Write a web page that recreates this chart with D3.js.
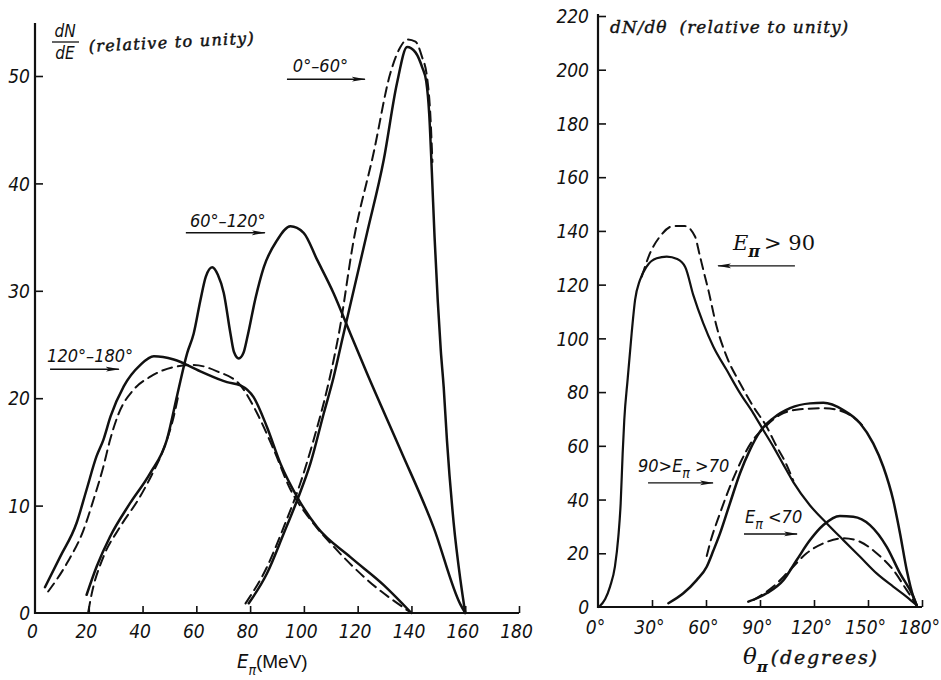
<!DOCTYPE html>
<html><head><meta charset="utf-8">
<script src="https://cdn.jsdelivr.net/npm/d3@7/dist/d3.min.js"></script>
<style>
body{margin:0;background:#fff;}
svg{display:block;}
</style></head><body>
<svg id="c" width="941" height="680"></svg>
<script>
// ---------- LEFT PANEL DATA: dN/dE vs E_pi (MeV) ----------
const leftXTicks = [0,20,40,60,80,100,120,140,160,180];
const leftYTicks = [0,10,20,30,40,50];
const e120_180_solid = [[3.7,2.4],[9.3,5.2],[15.5,8.4],[19.2,11.5],[22.9,14.6],[25.4,16.1],[28.1,18.3],[33,21.1],[39.2,23.1],[44.2,23.9],[51.6,23.6],[61.5,22.5],[71.4,21.5],[76.4,21.2],[81.3,20.1],[86.3,17.3],[91.3,13.9],[97.5,10.8],[104.9,8.0],[117.3,5.2],[129.7,2.6],[140,0]];
const e120_180_dash  = [[4.9,2.0],[11.8,4.6],[18,7.7],[21.7,10.5],[25.4,13.6],[27.9,16.1],[31,18.5],[36.7,20.8],[42.9,22.0],[51.6,22.9],[59,23.1],[67.7,22.5],[76.4,21.2],[82.6,18.6],[88.8,15.2],[95,11.5],[102.4,8.7],[111,6.2],[123.5,3.1],[140,0]];
const e60_120_solid  = [[19.2,1.7],[22.9,4.3],[27.9,7.1],[35.3,10.2],[42.8,13.0],[49,16.1],[52.9,20.3],[56.6,24.2],[59,26.0],[61.5,29.1],[63.5,31.3],[65.9,32.2],[68,31.5],[70.2,29.8],[72.7,26.0],[74,24.3],[75.8,23.7],[77.5,24.2],[78.9,25.6],[82,29.3],[85.1,32.2],[90,34.7],[95,36.0],[99.9,35.4],[104.9,32.9],[111,29.8],[117.3,26.0],[123.5,22.3],[135.9,15.2],[148.2,8.0],[158.2,0.8],[160,0]];
const e60_120_dash   = [[19.8,0.1],[21.1,1.8],[25.4,5.2],[31.6,8.0],[39,10.8],[43.5,12.9],[47.7,15.2],[51.6,18.3],[53.5,20.5]];
const e0_60_solid    = [[79.5,0.9],[86.3,3.7],[92.5,7.4],[97.5,10.5],[102.4,13.9],[107.4,18.6],[111.1,22.0],[114.2,25.4],[123.5,35.4],[129.7,42.2],[134.6,49.3],[138.4,52.7],[141.5,52.2],[144,50.8],[145.5,49.5],[146.6,46.5],[147.6,41],[148.6,35],[149.8,29],[150.9,24.5],[152,21],[153.2,16.1],[155.7,8.4],[158.2,3.1],[160,0]];
const e0_60_dash     = [[78.3,0.9],[86.3,4.3],[92.5,8.0],[98.7,12.1],[103.6,16.1],[108.6,20.8],[111.1,23.6],[113,26.0],[118.5,34.7],[125.9,42.8],[132.2,50.3],[135.9,52.7],[138.4,53.4],[141.5,53.2],[143.9,51.8],[145.8,49.9],[147,46.5],[147.8,42]];

// ---------- RIGHT PANEL DATA: dN/dtheta vs theta (degrees) ----------
const rightXTicks = [0,30,60,90,120,150,180];
const rightYTicks = [0,20,40,60,80,100,120,140,160,180,200,220];
const gt90_solid = [[0.5,0],[4,3],[6.7,7.6],[9.4,15],[11.3,26.2],[12.6,38.6],[13.7,57.2],[14.6,69.6],[16.5,85],[18.7,101.9],[20.6,114.3],[23.3,121.7],[27,126.7],[32.6,129.8],[38.2,130.4],[44,129.5],[48.5,126.5],[53,116],[58.5,105.6],[64.1,96.9],[71.5,88.2],[78.9,79.6],[86.3,72.1],[91.8,65.9],[97.4,59.7],[103,53],[108.5,46.5],[117.8,37.8],[127,31.2],[136.3,24.9],[145.6,18.7],[154.8,12.5],[164,7.6],[171.5,3.8],[177,0.7]];
const gt90_dash  = [[24.3,123],[28.9,131.7],[34.4,137.9],[41.9,141.8],[48.3,141.8],[53.9,137.9],[56.5,131],[58.5,125.5],[61.3,118],[65.9,104.4],[71.5,93.2],[78.9,83.3],[86.3,74.6],[93.7,67.1],[99.3,59.7],[104,54],[108.5,47]];
const mid_solid  = [[39.1,1.4],[47.4,5.1],[54.8,10],[60.4,15],[64.1,21],[67.8,27.4],[73.3,38.6],[78.9,49.8],[84.4,58.5],[90,65.3],[97.4,70.3],[106.7,74],[117.8,75.8],[125.2,76],[136.3,73.3],[145.6,68.4],[152.9,60.9],[158.5,52.2],[164,39.8],[167.8,27.4],[171.5,13.8],[175.2,3.8],[177,0.7]];
const mid_dash   = [[60.4,19],[62.2,23.7],[67.8,34.9],[73.3,44.8],[79.8,54.7],[85.4,61.5],[92,66.5],[101.1,71.5],[112.2,73.6],[125.2,74],[136.3,72.7],[143.7,69.6],[147,67.5]];
const lt70_solid = [[83.5,2],[93.7,5.1],[103,10],[110.4,17.5],[117.8,24.9],[125.2,30.5],[134.4,33.9],[141.8,33.6],[151.1,30.5],[160.4,22.4],[167.8,12.5],[175.2,3.8],[177,0.7]];
const lt70_dash  = [[86.3,2.6],[97.4,7.6],[106.7,13.8],[115.9,20],[125.2,23.7],[136.3,25.6],[145.6,24.3],[154.8,20],[164,13.8],[171.5,6.3],[177,0.7]];

const svg = d3.select("#c");
const ink = "#111";
const NARROW = "'Liberation Sans Narrow','DejaVu Sans Condensed','Liberation Sans',sans-serif";
const SERIF = "'DejaVu Serif','Liberation Serif',serif";

// scales
const xL = d3.scaleLinear().domain([0,180]).range([35,519]);
const yL = d3.scaleLinear().domain([0,50]).range([613,76]);
const xR = d3.scaleLinear().domain([0,180]).range([598,922]);
const yR = d3.scaleLinear().domain([0,220]).range([607,16]);

function styleTickText(sel){
  sel.attr("fill",ink).style("font-family",NARROW).style("font-style","italic")
     .style("font-size","19px");
}

function drawAxes(x, y, xt, yt, fmtX, yTop, yLabPad, xLabPad){
  const g = svg.append("g");
  g.append("line").attr("x1",x(0)).attr("x2",x(0)).attr("y1",y(0)+1).attr("y2",yTop)
    .attr("stroke",ink).attr("stroke-width",2.2);
  g.append("line").attr("x1",x(0)-1).attr("x2",x(xt[xt.length-1])).attr("y1",y(0)).attr("y2",y(0))
    .attr("stroke",ink).attr("stroke-width",2.2);
  const ax = d3.axisBottom(x).tickValues(xt).tickSize(-7).tickPadding(xLabPad).tickFormat(fmtX);
  const gx = g.append("g").attr("transform",`translate(0,${y(0)})`).call(ax);
  gx.select(".domain").remove();
  gx.selectAll(".tick line").attr("stroke",ink).attr("stroke-width",1.6)
    .filter(d=>d===0).remove();
  gx.selectAll(".tick text").call(styleTickText).attr("dx",-3).attr("dy","0.72em");
  const ay = d3.axisLeft(y).tickValues(yt).tickSize(-8).tickPadding(yLabPad);
  const gy = g.append("g").attr("transform",`translate(${x(0)},0)`).call(ay);
  gy.select(".domain").remove();
  gy.selectAll(".tick line").attr("stroke",ink).attr("stroke-width",1.6)
    .filter(d=>d===0).remove();
  gy.selectAll(".tick text").call(styleTickText).attr("dy","0.35em");
  return g;
}
drawAxes(xL, yL, leftXTicks, leftYTicks, d=>d, 23, 5, 11);
drawAxes(xR, yR, rightXTicks, rightYTicks, d=>d+"°", 14, 9, 13);

function curve(x,y,data,dashed,w){
  const line = d3.line().x(d=>x(d[0])).y(d=>y(d[1])).curve(d3.curveMonotoneX);
  svg.append("path").attr("d",line(data)).attr("fill","none").attr("stroke",ink)
    .attr("stroke-width",w||2.5).attr("stroke-linecap","round").attr("stroke-linejoin","round")
    .attr("stroke-dasharray",dashed?"10,6":null);
}
curve(xL,yL,e120_180_solid,false);
curve(xL,yL,e120_180_dash,true,2);
curve(xL,yL,e60_120_solid,false);
curve(xL,yL,e60_120_dash,true,2);
curve(xL,yL,e0_60_solid,false);
curve(xL,yL,e0_60_dash,true,2);

curve(xR,yR,gt90_solid,false,2.2);
curve(xR,yR,gt90_dash,true,2);
curve(xR,yR,mid_solid,false,2.5);
curve(xR,yR,mid_dash,true,2);
curve(xR,yR,lt70_solid,false,2.5);
curve(xR,yR,lt70_dash,true,2);

// arrow marker
svg.append("defs").append("marker").attr("id","ah").attr("viewBox","0 0 14 6")
  .attr("refX",13).attr("refY",3).attr("markerWidth",14).attr("markerHeight",6)
  .attr("markerUnits","userSpaceOnUse").attr("orient","auto")
  .append("path").attr("d","M0,0.6 L14,3 L0,5.4 L3,3 Z").attr("fill",ink);

function arrow(x,y,x1,x2,yy){
  svg.append("line").attr("x1",x(x1)).attr("x2",x(x2)).attr("y1",y(yy)).attr("y2",y(yy))
    .attr("stroke",ink).attr("stroke-width",1.4).attr("marker-end","url(#ah)");
}
function lab(x,y,size){
  return svg.append("text").attr("x",x).attr("y",y).attr("fill",ink)
    .style("font-family",NARROW).style("font-style","italic").style("font-size",size+"px");
}

// ---- left annotations ----
const leftLabels = [{t:"0°–60°",x:95.9,y:50.4,a:[93.7,122.7,49.7]},
                    {t:"60°–120°",x:57.6,y:35.9,a:[56.1,85.5,35.4]},
                    {t:"120°–180°",x:4.5,y:23.4,a:[5.6,31.2,22.7]}];
leftLabels.forEach(l=>{
  lab(xL(l.x),yL(l.y),18).text(l.t);
  arrow(xL,yL,l.a[0],l.a[1],l.a[2]);
});

// left title
lab(65,37,17).attr("text-anchor","middle").text("dN");
svg.append("line").attr("x1",52).attr("x2",79).attr("y1",42).attr("y2",42).attr("stroke",ink).attr("stroke-width",1.3);
lab(65,59,17).attr("text-anchor","middle").text("dE");
svg.append("text").attr("x",89).attr("y",52).attr("transform","rotate(-3,89,52)").attr("fill",ink)
  .attr("stroke",ink).attr("stroke-width",0.5)
  .style("font-family",SERIF).style("font-style","italic")
  .style("font-size","16px").style("letter-spacing","1.3px").text("(relative to unity)");

// left x label
const lx = lab(237,668,20);
lx.append("tspan").text("E");
lx.append("tspan").attr("dy",7).style("font-size","14px").text("π");
lx.append("tspan").attr("dy",-7).style("font-style","normal").style("font-family","'Liberation Sans',sans-serif").style("font-size","19px").text("(MeV)");

// ---- right annotations ----
const rt = svg.append("text").attr("x",610).attr("y",33).attr("fill",ink)
  .attr("stroke",ink).attr("stroke-width",0.4)
  .style("font-family",SERIF).style("font-style","italic").style("font-size","17px").style("letter-spacing","1px");
rt.append("tspan").text("dN/dθ");
rt.append("tspan").attr("dx",12).text("(relative to unity)");

const t90 = svg.append("text").attr("x",xR(75)).attr("y",yR(132.9)).attr("fill",ink)
  .style("font-family",SERIF).style("font-size","21px");
t90.append("tspan").style("font-style","italic").text("E");
t90.append("tspan").attr("dy",7).style("font-size","16px").style("font-weight","bold").style("font-style","italic").text("π");
t90.append("tspan").attr("dy",-7).attr("dx",4).text("> 90");
arrow(xR,yR,109.4,66.7,127);

const tm = lab(xR(22.2),yR(50.3),18);
tm.append("tspan").text("90>E");
tm.append("tspan").attr("dy",6).style("font-size","14px").text("π");
tm.append("tspan").attr("dy",-6).text(" >70");
arrow(xR,yR,27.8,63.9,46.2);

const tl70 = lab(xR(81.7),yR(31.3),18);
tl70.append("tspan").text("E");
tl70.append("tspan").attr("dy",6).style("font-size","14px").text("π");
tl70.append("tspan").attr("dy",-6).text(" <70");
arrow(xR,yR,81.1,110.6,27.2);

// right x label
const rx = svg.append("text").attr("x",743).attr("y",664).attr("fill",ink)
  .style("font-family",SERIF).style("font-style","italic").style("font-size","23px");
rx.append("tspan").text("θ");
rx.append("tspan").attr("dy",8).style("font-size","15px").style("font-weight","bold").text("π");
rx.append("tspan").attr("dy",-8).attr("dx",3).style("font-size","19px")
  .attr("stroke",ink).attr("stroke-width",0.4).style("letter-spacing","1.8px").text("(degrees)");
</script>
</body></html>
